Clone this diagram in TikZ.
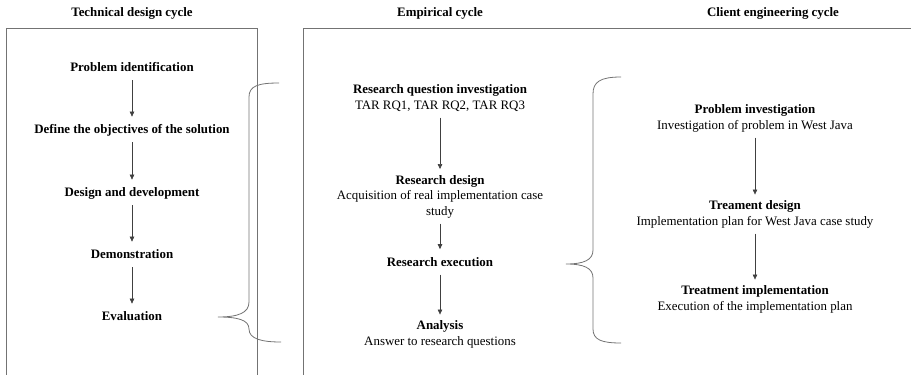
\documentclass[tikz,border=0pt]{standalone}
\usepackage{fontspec}
\setmainfont{Liberation Serif}
\usetikzlibrary{arrows.meta}
\begin{document}
\begin{tikzpicture}[x=1pt,y=-1pt,
  frame/.style={draw=black!55, line width=0.9pt},
  brace/.style={draw=black!55, line width=0.8pt},
  title/.style={font=\fontsize{12.9}{15.5}\selectfont\bfseries, anchor=base, inner sep=0pt},
  item/.style={font=\fontsize{12.9}{15.5}\selectfont, align=center, anchor=base, inner sep=0pt,
    execute at begin node=\strut, execute at end node=\strut},
  flow/.style={draw=black!75, line width=0.6pt, -{Triangle[length=5pt,width=4.5pt]},
    shorten <=3.8pt, shorten >=5.8pt}
]
\useasboundingbox (0,0) rectangle (911,375);

% column frames, open at the bottom
\draw[frame] (6,376) -- (6,28) -- (257,28) -- (257,376);
\draw[frame] (303,376) -- (303,28) -- (912,28);

% headings (base anchor = baseline of the line)
\node[title] (t1) at (132,16.5) {Technical design cycle};
\node[title] (t2) at (440,16.5) {Empirical cycle};
\node[title] (t3) at (773,16.5) {Client engineering cycle};

% technical design cycle
\node[item] (a1) at (132,71.5) {\textbf{Problem identification}};
\node[item] (a2) at (132,133.5) {\textbf{Define the objectives of the solution}};
\node[item] (a3) at (132,196.5) {\textbf{Design and development}};
\node[item] (a4) at (132,258.5) {\textbf{Demonstration}};
\node[item] (a5) at (132,320.5) {\textbf{Evaluation}};
\draw[flow] (a1) -- (a2);
\draw[flow] (a2) -- (a3);
\draw[flow] (a3) -- (a4);
\draw[flow] (a4) -- (a5);

% empirical cycle (multi-line nodes sit on the baseline of their last line)
\node[item] (b1) at (440,109) {\textbf{Research question investigation}\\TAR RQ1, TAR RQ2, TAR RQ3};
\node[item] (b2) at (440,215) {\textbf{Research design}\\Acquisition of real implementation case\\study};
\node[item] (b3) at (440,266) {\textbf{Research execution}};
\node[item] (b4) at (440,345) {\textbf{Analysis}\\Answer to research questions};
\draw[flow] (b1.south) -- (b2.north);
\draw[flow] (b2.south) -- (b3.north);
\draw[flow] (b3.south) -- (b4.north);

% client engineering cycle
\node[item] (c1) at (755,129) {\textbf{Problem investigation}\\Investigation of problem in West Java};
\node[item] (c2) at (755,225) {\textbf{Treament design}\\Implementation plan for West Java case study};
\node[item] (c3) at (755,310) {\textbf{Treatment implementation}\\Execution of the implementation plan};
\draw[flow] (c1.south) -- (c2.north);
\draw[flow] (c2.south) -- (c3.north);

% braces linking the cycles
\draw[brace] (279,83) .. controls (258,83) and (249,86) .. (249,97) -- (249,302)
  .. controls (249,313) and (238,317) .. (218,317)
  .. controls (238,317) and (249,320) .. (249,329)
  .. controls (249,339) and (262,342) .. (281,342);
\draw[brace] (621,77) .. controls (600,77) and (593,82) .. (593,94) -- (593,250)
  .. controls (593,260) and (584,264) .. (566,264)
  .. controls (584,264) and (593,268) .. (593,278) -- (593,329)
  .. controls (593,340) and (602,343) .. (621,343);
\end{tikzpicture}
\end{document}
